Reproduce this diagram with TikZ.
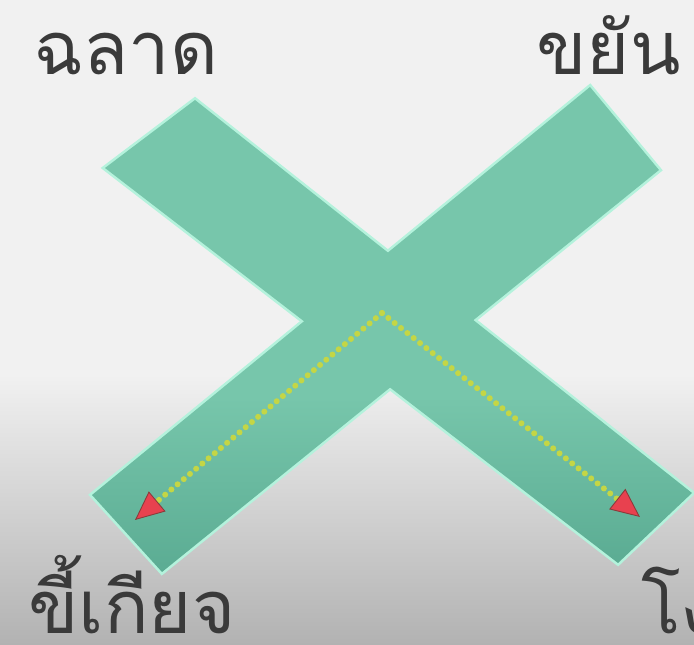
\documentclass[tikz,border=0pt]{standalone}
\usepackage{fontspec}
\usepackage{xcolor}
\usepackage{tikz}
\usetikzlibrary{arrows.meta,positioning}
\newfontfamily\thaifont[Script=Thai]{Loma}
\definecolor{xBgTop}{HTML}{F1F1F1}
\definecolor{xBgBot}{HTML}{B2B2B2}
\definecolor{xTealTop}{HTML}{77C6AB}
\definecolor{xTealBot}{HTML}{5BAC93}
\definecolor{xGlow}{HTML}{B4F2DC}
\definecolor{xDot}{HTML}{C4D645}
\definecolor{xRed}{HTML}{E8414F}
\definecolor{xRedEdge}{HTML}{8A3B3B}
\definecolor{xInk}{HTML}{3A3A3A}
\pgfdeclareverticalshading{xbgfade}{100bp}{color(0bp)=(xBgBot); color(25bp)=(xBgBot); color(46bp)=(xBgTop); color(100bp)=(xBgTop)}
\pgfdeclareverticalshading{xbandfade}{100bp}{color(0bp)=(xTealBot); color(25bp)=(xTealBot); color(43bp)=(xTealTop); color(100bp)=(xTealTop)}
\tikzset{
  backdrop/.style={shading=xbgfade},
  bandglow/.style={draw=xGlow,line width=3pt,line join=miter},
  crossband/.style={shading=xbandfade},
  wordlabel/.style={anchor=base west,inner sep=0pt,text=xInk,
    font=\thaifont\fontsize{42}{46}\selectfont},
  dotpath/.style={draw=xDot,line width=0.12cm,line cap=round,dash pattern=on 0pt off 4.6pt,
    -{Triangle[length=0.58cm,width=0.52cm,fill=xRed,color=xRedEdge,line width=0.5pt]}}
}

\begin{document}
\begin{tikzpicture}[x=0.02cm,y=-0.02cm]
  \useasboundingbox (0,0) rectangle (694,645);
  \shade[backdrop] (0,0) rectangle (694,645);
  % band from smart to stupid, band from diligent to lazy
  \draw[bandglow] (195,100) -- (105,168) -- (618,563) -- (692,493) -- cycle;
  \draw[bandglow] (590,87) -- (659,170) -- (162,572) -- (92,495) -- cycle;
  \shade[crossband] (195,100) -- (105,168) -- (618,563) -- (692,493) -- cycle;
  \shade[crossband] (590,87) -- (659,170) -- (162,572) -- (92,495) -- cycle;
  \node[wordlabel] (smart) at (33,75) {ฉลาด};
  \node[wordlabel] (diligent) at (536,75) {ขยัน};
  \node[wordlabel] (lazy) at (28,634) {ขี้เกียจ};
  \node[wordlabel] (stupid) at (641,634) {โง่};
  \coordinate (apex) at (382,313);
  \coordinate (lazytip) at (135,520);
  \coordinate (stupidtip) at (640,517);
  \draw[dotpath] (apex) -- (lazytip);
  \draw[dotpath] (apex) -- (stupidtip);
\end{tikzpicture}
\end{document}
